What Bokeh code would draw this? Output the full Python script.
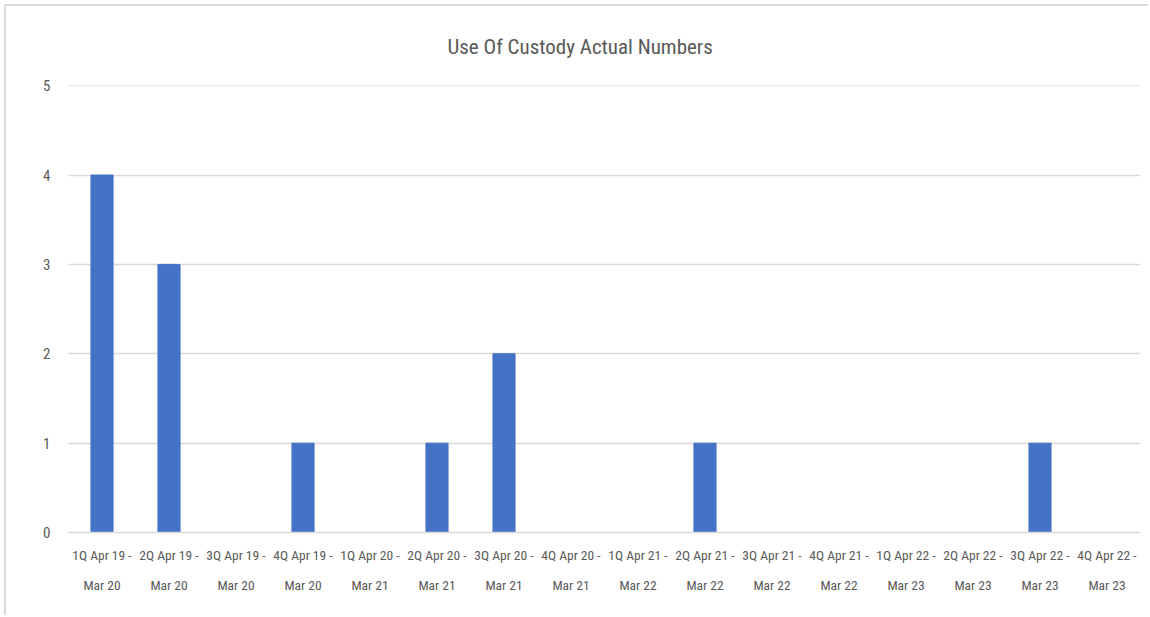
from bokeh.plotting import figure
from bokeh.models import FixedTicker, Range1d
from bokeh.embed import file_html
from bokeh.resources import INLINE

title_text = "Use Of Custody Actual Numbers"
categories = [
    "1Q Apr 19 -\nMar 20", "2Q Apr 19 -\nMar 20", "3Q Apr 19 -\nMar 20", "4Q Apr 19 -\nMar 20",
    "1Q Apr 20 -\nMar 21", "2Q Apr 20 -\nMar 21", "3Q Apr 20 -\nMar 21", "4Q Apr 20 -\nMar 21",
    "1Q Apr 21 -\nMar 22", "2Q Apr 21 -\nMar 22", "3Q Apr 21 -\nMar 22", "4Q Apr 21 -\nMar 22",
    "1Q Apr 22 -\nMar 23", "2Q Apr 22 -\nMar 23", "3Q Apr 22 -\nMar 23", "4Q Apr 22 -\nMar 23",
]
values = [4, 3, 0, 1, 0, 1, 2, 0, 0, 1, 0, 0, 0, 0, 1, 0]
y_ticks = [0, 1, 2, 3, 4, 5]

FONT = "Liberation Sans Narrow, Roboto Condensed, Roboto"
TXT = "#595959"

p = figure(x_range=categories, y_range=Range1d(0, 5.002), width=1144, height=611,
           output_backend="svg", toolbar_location=None,
           min_border_left=62, min_border_right=10, min_border_top=79, min_border_bottom=85)
p.styles = {"margin-left": "4px", "margin-top": "4px",
            "border-left": "2px solid #d9d9d9", "border-top": "2px solid #d9d9d9"}
p.vbar(x=categories, top=values, width=0.33, color="#4472c4")

p.title.text = title_text
p.title.align = "left"
p.title.text_font = FONT
p.title.text_font_size = "21px"
p.title.text_font_style = "normal"
p.title.text_color = TXT
p.title.offset = 379
p.title.standoff = 53

p.outline_line_color = None
p.background_fill_color = "white"
p.border_fill_color = "white"

p.xgrid.grid_line_color = None
p.ygrid.grid_line_color = "#d9d9d9"
p.ygrid.grid_line_width = 1.5
p.yaxis.ticker = FixedTicker(ticks=y_ticks)
p.yaxis.axis_line_color = None
p.yaxis.major_tick_line_color = None
p.yaxis.minor_tick_line_color = None
p.yaxis.major_label_text_font = FONT
p.yaxis.major_label_text_font_size = "15px"
p.yaxis.major_label_text_color = TXT
p.yaxis.major_label_standoff = 12

p.xaxis.axis_line_color = "#d9d9d9"
p.xaxis.axis_line_width = 1.5
p.xaxis.major_tick_line_color = None
p.xaxis.minor_tick_line_color = None
p.xaxis.major_label_text_font = FONT
p.xaxis.major_label_text_font_size = "13.5px"
p.xaxis.major_label_text_color = TXT
p.xaxis.major_label_text_line_height = 1.9
p.xaxis.major_label_standoff = 8
p.x_range.range_padding = 0

open("out.html", "w").write(file_html(p, INLINE))
